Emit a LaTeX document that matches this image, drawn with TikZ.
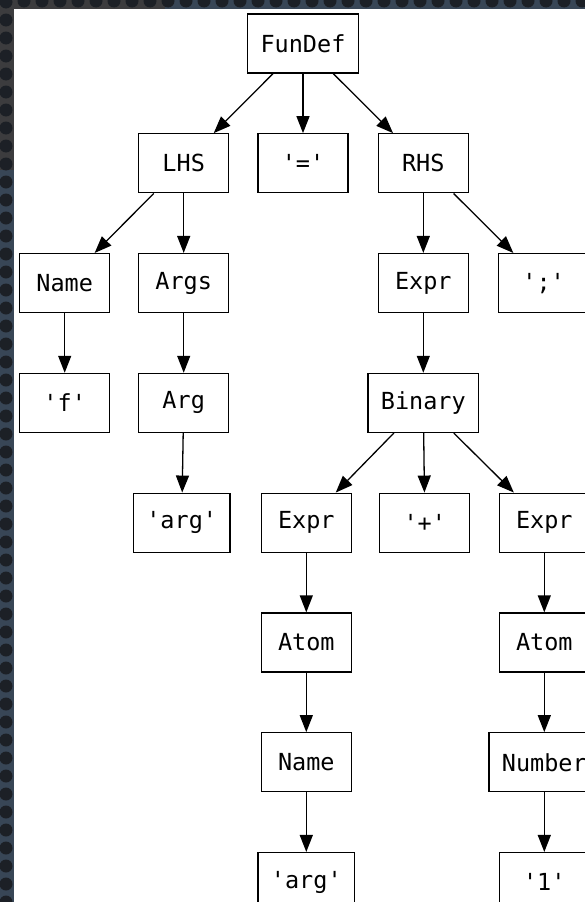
\documentclass[tikz,border=0pt]{standalone}
\usepackage{fontspec}
\setmonofont{DejaVu Sans Mono}
\usetikzlibrary{positioning, arrows.meta}
\definecolor{bgGray}{RGB}{60,60,62}
\definecolor{bgBlue}{RGB}{56,70,86}
\definecolor{dotDark}{RGB}{28,32,38}
\tikzset{
    treenode/.style={
        draw,
        line width=1.3pt,
        fill=white,
        minimum width=90pt,
        minimum height=59pt,
        inner xsep=13pt,
        font=\ttfamily\fontsize{23.5}{27}\selectfont
    },
    branch/.style={
        -{Triangle[length=17pt, width=13pt]},
        line width=1.3pt
    }
}

\begin{document}
\begin{tikzpicture}[x=1pt, y=-1pt, node distance=59.5pt]
        \useasboundingbox (0,0) rectangle (585,902);
        \clip (0,0) rectangle (585,902);

        % dotted backdrop and the white sheet
        \fill[bgBlue] (0,0) rectangle (585,902);
        \fill[bgGray] (0,0) rectangle (165,170);
        \foreach \y in {2,20,...,902} \fill[dotDark] (6,\y) circle (6.5pt);
        \foreach \x in {24,42,...,590} \fill[dotDark] (\x,1) circle (6.5pt);
        \fill[white] (14,9) rectangle (585,902);

        % parse tree
        \node[treenode] (fundef) at (303,43.5) {FunDef};
        \node[treenode, below=of fundef] (eq) {'='};
        \node[treenode, left=28pt of eq] (lhs) {LHS};
        \node[treenode, right=29pt of eq] (rhs) {RHS};

        \node[treenode, below=of lhs, xshift=-119pt] (name) {Name};
        \node[treenode, below=of lhs] (args) {Args};
        \node[treenode, below=of rhs] (expr) {Expr};
        \node[treenode, right=29pt of expr] (semi) {';'};

        \node[treenode, below=of name] (strf) {'f'};
        \node[treenode, below=of args] (arg) {Arg};
        \node[treenode, below=of expr] (binary) {Binary};

        \node[treenode, below=of arg, xshift=-2pt] (strarg) {'arg'};
        \node[treenode, below=of binary, xshift=1.5pt] (plus) {'+'};
        \node[treenode, below=of binary, xshift=-117pt] (exprL) {Expr};
        \node[treenode, below=of binary, xshift=121pt] (exprR) {Expr};

        \node[treenode, below=of exprL] (atomL) {Atom};
        \node[treenode, below=of exprR] (atomR) {Atom};
        \node[treenode, below=of atomL] (nameL) {Name};
        \node[treenode, below=of atomR] (number) {Number};
        \node[treenode, below=of nameL] (strargL) {'arg'};
        \node[treenode, below=of number] (strone) {'1'};

        \draw[branch] (fundef) -- (lhs);
        \draw[branch] (fundef) -- (eq);
        \draw[branch] (fundef) -- (rhs);
        \draw[branch] (lhs) -- (name);
        \draw[branch] (lhs) -- (args);
        \draw[branch] (rhs) -- (expr);
        \draw[branch] (rhs) -- (semi);
        \draw[branch] (name) -- (strf);
        \draw[branch] (args) -- (arg);
        \draw[branch] (expr) -- (binary);
        \draw[branch] (arg) -- (strarg);
        \draw[branch] (binary) -- (exprL);
        \draw[branch] (binary) -- (plus);
        \draw[branch] (binary) -- (exprR);
        \draw[branch] (exprL) -- (atomL);
        \draw[branch] (atomL) -- (nameL);
        \draw[branch] (nameL) -- (strargL);
        \draw[branch] (exprR) -- (atomR);
        \draw[branch] (atomR) -- (number);
        \draw[branch] (number) -- (strone);
    \end{tikzpicture}
\end{document}
